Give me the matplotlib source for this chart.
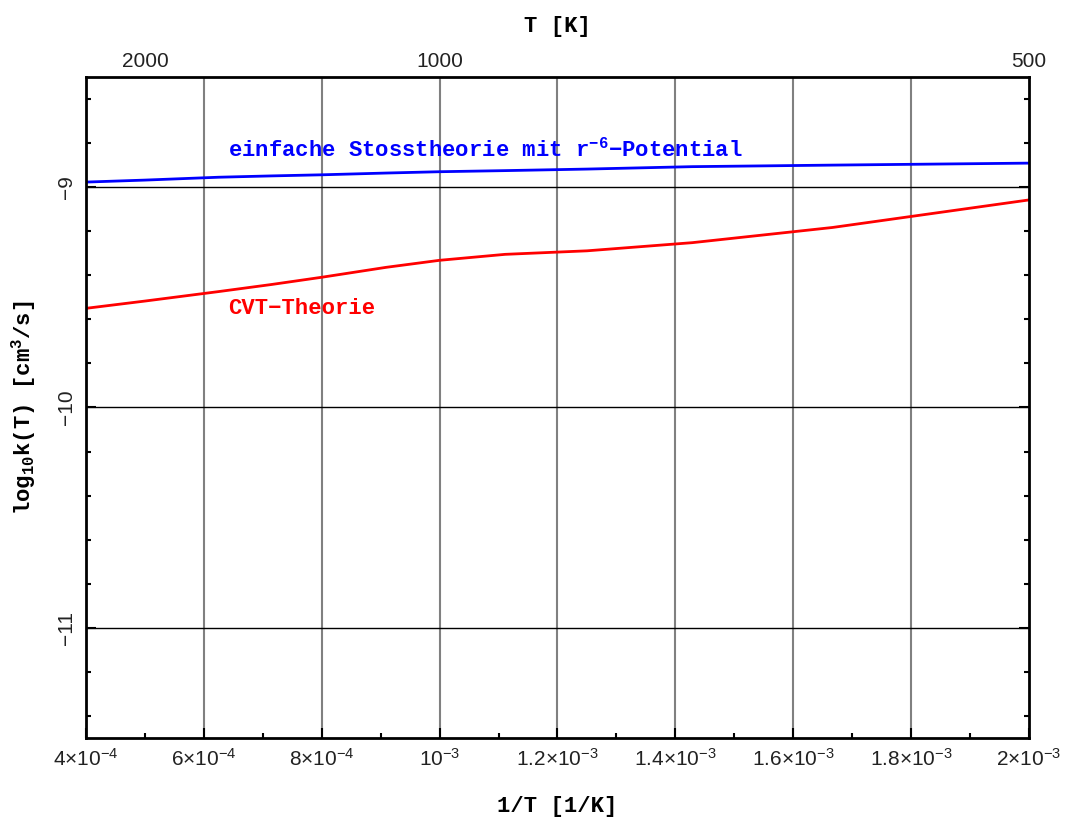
import matplotlib
matplotlib.use("Agg")
import matplotlib.pyplot as plt
from matplotlib.ticker import FixedLocator, FixedFormatter, MultipleLocator

# Daten ------------------------------------------------
T_K = [2500, 2000, 1600, 1400, 1250, 1100, 1000, 900, 800, 700, 600, 500]
log_k_cvt = [-9.550, -9.517, -9.474, -9.442, -9.409, -9.364, -9.332,
             -9.305, -9.289, -9.252, -9.183, -9.058]
log_k_stoss = [-8.977, -8.968, -8.955, -8.949, -8.944, -8.936, -8.930,
               -8.925, -8.918, -8.907, -8.900, -8.891]
inv_T = [1.0 / t for t in T_K]

x_ticks = [4e-4, 6e-4, 8e-4, 1e-3, 1.2e-3, 1.4e-3, 1.6e-3, 1.8e-3, 2e-3]
x_tick_labels = [r'$4{\times}10^{-4}$', r'$6{\times}10^{-4}$', r'$8{\times}10^{-4}$',
                 r'$10^{-3}$', r'$1.2{\times}10^{-3}$', r'$1.4{\times}10^{-3}$',
                 r'$1.6{\times}10^{-3}$', r'$1.8{\times}10^{-3}$', r'$2{\times}10^{-3}$']
y_ticks = [-11, -10, -9]
y_tick_labels = ['\u221211', '\u221210', '\u22129']
top_T = [2000, 1000, 500]

# Schrift -----------------------------------------------
plt.rcParams['font.family'] = ['Liberation Sans', 'DejaVu Sans']
plt.rcParams['mathtext.default'] = 'regular'
label_font = dict(family=['Liberation Mono', 'DejaVu Sans Mono'],
                  weight='bold', size=16)

fig = plt.figure(figsize=(10.72, 8.18), dpi=100)
ax = fig.add_axes([0.0802, 0.0978, 0.8797, 0.8081])

ax.plot(inv_T, log_k_stoss, color='#0000ff', lw=2)
ax.plot(inv_T, log_k_cvt, color='#ff0000', lw=2)

ax.text(6.41e-4, -8.83, 'einfache Stosstheorie mit r$^{-6}$$-$Potential',
        color='#0000ff', va='center', ha='left', **label_font)
ax.text(6.41e-4, -9.55, 'CVT\u2212Theorie',
        color='#ff0000', va='center', ha='left', **label_font)

ax.set_xlim(4e-4, 2e-3)
ax.set_ylim(-11.5, -8.5)

# Gitter
for xv in x_ticks[1:-1]:
    ax.axvline(xv, color='#808080', lw=1.5, zorder=0)
for yv in y_ticks:
    ax.axhline(yv, color='black', lw=1, zorder=0)

ax.xaxis.set_major_locator(FixedLocator(x_ticks))
ax.xaxis.set_major_formatter(FixedFormatter(x_tick_labels))
ax.xaxis.set_minor_locator(MultipleLocator(1e-4))
ax.yaxis.set_major_locator(FixedLocator(y_ticks))
ax.yaxis.set_major_formatter(FixedFormatter(y_tick_labels))
ax.yaxis.set_minor_locator(MultipleLocator(0.2))

ax.tick_params(which='both', direction='in', top=True, right=True,
               width=1.5, color='black')
ax.tick_params(which='major', length=7.5, labelsize=15, pad=7,
               labelcolor='#222222')
ax.tick_params(which='minor', length=3.8)
ax.tick_params(axis='y', labelrotation=90)
for lbl in ax.get_yticklabels():
    lbl.set_va('center')
for sp in ax.spines.values():
    sp.set_linewidth(2)

ax.set_xlabel('1/T [1/K]', labelpad=19, **label_font)
ax.set_ylabel('log$_{10}$k(T) [cm$^3$/s]', labelpad=14, **label_font)

# obere Achse: Temperatur
top = ax.twiny()
top.set_xlim(ax.get_xlim())
top.set_xticks([1.0 / t for t in top_T])
top.set_xticklabels([str(t) for t in top_T])
top.tick_params(length=0, labelsize=15, pad=4, labelcolor='#222222')
top.set_xlabel('T [K]', labelpad=15, **label_font)
for sp in top.spines.values():
    sp.set_visible(False)

plt.savefig('out.png', dpi=100)
